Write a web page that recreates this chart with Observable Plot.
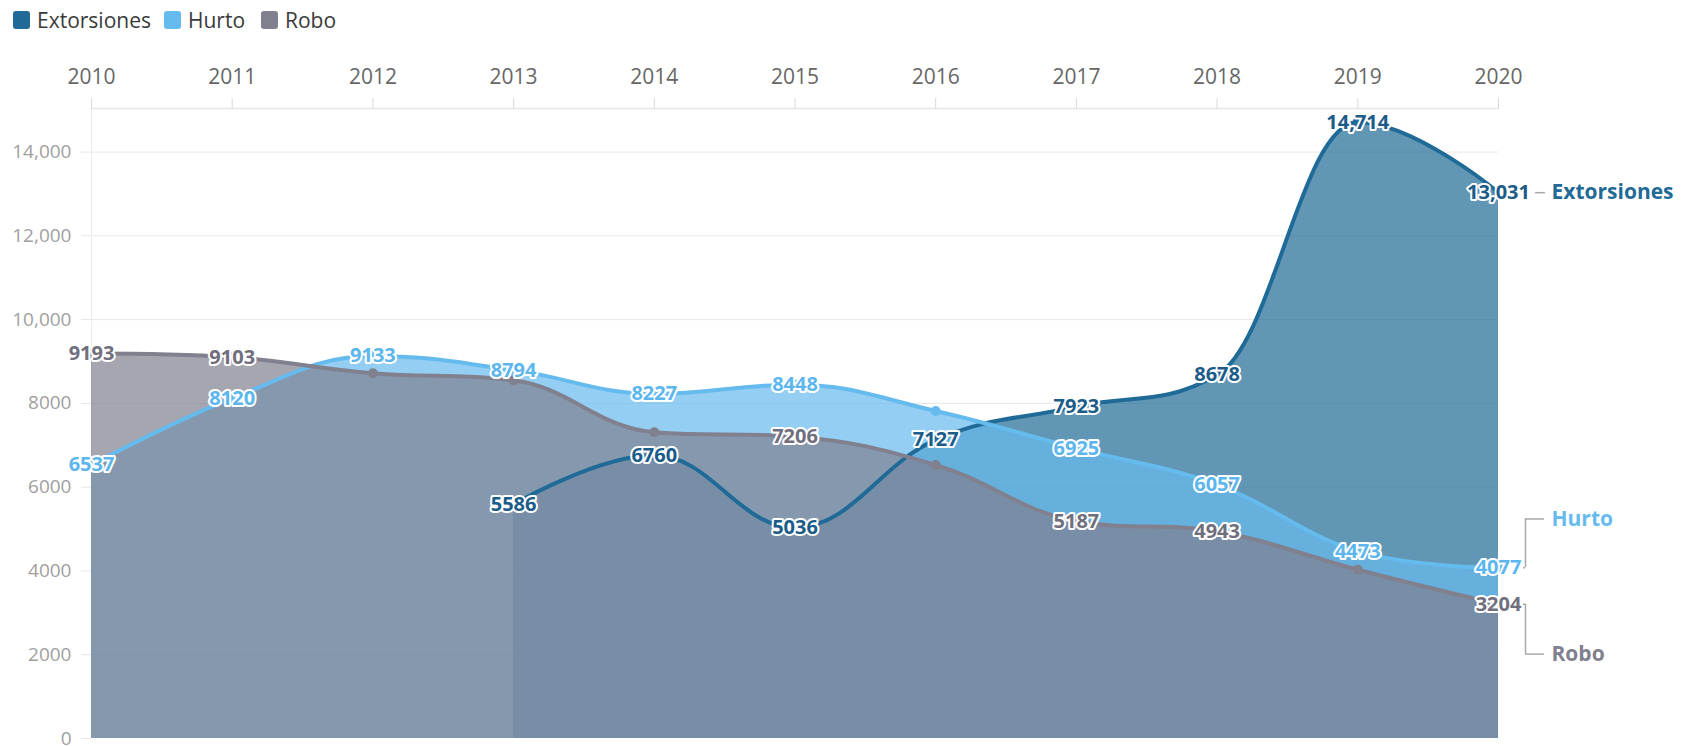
<!DOCTYPE html>
<html><head><meta charset="utf-8">
<script src="https://cdn.jsdelivr.net/npm/d3@7"></script>
<script src="https://cdn.jsdelivr.net/npm/@observablehq/plot@0.6"></script>
<style>
body{margin:0;background:#fff;font-family:"Open Sans",sans-serif;}
#legend{height:40px;position:relative;}
.item{position:absolute;top:9px;display:flex;align-items:center;font-size:21px;color:#3a3a3a;line-height:22px;}
.sw{width:17px;height:18px;border-radius:3px;margin-right:7px;}
</style></head><body>
<div id="legend"></div><div id="chart"></div>
<script>
// ---- data ----
const years = [2010, 2011, 2012, 2013, 2014, 2015, 2016, 2017, 2018, 2019, 2020];
const extYears = [2013, 2014, 2015, 2016, 2017, 2018, 2019, 2020];
const extorsiones = [5586, 6760, 5036, 7127, 7923, 8678, 14714, 13031];
const hurto = [6537, 8120, 9133, 8794, 8227, 8448, 7820, 6925, 6057, 4473, 4077];
const robo = [9193, 9103, 8720, 8550, 7310, 7206, 6530, 5187, 4943, 4030, 3204];
const seriesNames = ["Extorsiones", "Hurto", "Robo"];
const seriesColors = ["#1f6a96", "#66bbee", "#80808f"];
const labelColors = ["#1b5c88", "#5db6ee", "#6f6f7d"];
const hiddenLabels = {Extorsiones: [], Hurto: [2016], Robo: [2012, 2013, 2014, 2016, 2019]};
const yTicks = [0, 2000, 4000, 6000, 8000, 10000, 12000, 14000];

const rows = [
  ...extYears.map((year, i) => ({series: "Extorsiones", year, value: extorsiones[i]})),
  ...years.map((year, i) => ({series: "Hurto", year, value: hurto[i]})),
  ...years.map((year, i) => ({series: "Robo", year, value: robo[i]}))
];

// ---- Highcharts-like spline curve ----
function hcControls(p) {
  const n = p.length, L = new Array(n), R = new Array(n);
  const s = 1.5, den = 2.5;
  for (let i = 0; i < n; i++) {
    const x = p[i][0], y = p[i][1];
    L[i] = [x, y]; R[i] = [x, y];
    if (i > 0 && i < n - 1) {
      const lx = p[i-1][0], ly = p[i-1][1], nx = p[i+1][0], ny = p[i+1][1];
      let lcx = (s*x + lx)/den, lcy = (s*y + ly)/den, rcx = (s*x + nx)/den, rcy = (s*y + ny)/den;
      let corr = 0;
      if (rcx !== lcx) corr = ((rcy - lcy)*(rcx - x))/(rcx - lcx) + y - rcy;
      lcy += corr; rcy += corr;
      if (lcy > ly && lcy > y) { lcy = Math.max(ly, y); rcy = 2*y - lcy; }
      else if (lcy < ly && lcy < y) { lcy = Math.min(ly, y); rcy = 2*y - lcy; }
      if (rcy > ny && rcy > y) { rcy = Math.max(ny, y); lcy = 2*y - rcy; }
      else if (rcy < ny && rcy < y) { rcy = Math.min(ny, y); lcy = 2*y - rcy; }
      L[i] = [lcx, lcy]; R[i] = [rcx, rcy];
    }
  }
  return {L, R};
}
class HCSpline {
  constructor(ctx) { this._context = ctx; }
  areaStart() { this._line = 0; }
  areaEnd() { this._line = NaN; }
  lineStart() { this._pts = []; }
  point(x, y) { this._pts.push([+x, +y]); }
  lineEnd() {
    const p = this._pts, n = p.length, c = this._context;
    if (n) {
      if (this._line) c.lineTo(p[0][0], p[0][1]); else c.moveTo(p[0][0], p[0][1]);
      if (n > 1) {
        const {L, R} = hcControls(p);
        for (let i = 1; i < n; i++) c.bezierCurveTo(R[i-1][0], R[i-1][1], L[i][0], L[i][1], p[i][0], p[i][1]);
      }
    }
    if (this._line || (this._line !== 0 && n === 1)) c.closePath();
    this._line = 1 - this._line;
  }
}
const hcSpline = ctx => new HCSpline(ctx);

// ---- legend ----
const legendX = [13, 164, 261];
const legend = document.getElementById("legend");
seriesNames.forEach((name, i) => {
  const it = document.createElement("div");
  it.className = "item";
  it.style.left = legendX[i] + "px";
  it.innerHTML = `<div class="sw" style="background:${seriesColors[i]}"></div><span>${name}</span>`;
  legend.appendChild(it);
});

// ---- chart ----
const W = 1694, H = 706, mL = 91, mR = 196, mT = 68, mB = 8;
const yMax = 15040;
const pxYear = (W - mL - mR) / (years[years.length-1] - years[0]);
const xo = px => 2020 + px / pxYear;
const fmt = v => v >= 10000 ? d3.format(",")(v) : String(v);
const last = name => rows.filter(d => d.series === name).slice(-1)[0].value;

const marks = [
  Plot.ruleY(yTicks.slice(1), {stroke: "#e8e8e8", strokeWidth: 1}),
  Plot.ruleY([yMax], {stroke: "#e6e6e6", strokeWidth: 1.5}),
  Plot.ruleX([2010], {stroke: "#ececec"}),
  Plot.axisY(yTicks, {tickSize: 10, tickPadding: 10, stroke: "#e6e6e6", fill: "#a0a0a0", fontSize: 19, tickFormat: fmt, label: null}),
  Plot.axisX(years, {anchor: "top", tickSize: 11, tickPadding: 14, stroke: "#d9d9d9", fill: "#666", fontSize: 21, tickFormat: d => String(d), label: null})
];
seriesNames.forEach((name, i) => {
  marks.push(Plot.areaY(rows.filter(d => d.series === name), {x: "year", y1: 0, y2: "value", fill: seriesColors[i], fillOpacity: 0.7, curve: hcSpline}));
});
seriesNames.forEach((name, i) => {
  marks.push(Plot.line(rows.filter(d => d.series === name), {x: "year", y: "value", stroke: seriesColors[i], strokeWidth: 4, curve: hcSpline}));
});
seriesNames.forEach((name, i) => {
  marks.push(Plot.dot(rows.filter(d => d.series === name), {x: "year", y: "value", fill: seriesColors[i], r: 5}));
});
seriesNames.forEach((name, i) => {
  marks.push(Plot.text(rows.filter(d => d.series === name && !hiddenLabels[name].includes(d.year)), {
    x: "year", y: "value", text: d => fmt(d.value), fill: labelColors[i],
    stroke: "white", strokeWidth: 4, fontWeight: "bold", fontSize: 20
  }));
});
// end labels with connectors
const endY = {Extorsiones: last("Extorsiones"), Hurto: 5240, Robo: 2015};
const conn = {stroke: "#a8a8a8", strokeWidth: 1.5};
marks.push(
  Plot.ruleY([endY.Extorsiones], {x1: xo(37), x2: xo(47), ...conn}),
  Plot.ruleX([xo(27)], {y1: last("Hurto"), y2: endY.Hurto, ...conn}),
  Plot.ruleY([endY.Hurto], {x1: xo(27), x2: xo(46), ...conn}),
  Plot.ruleY([last("Hurto")], {x1: xo(25), x2: xo(27), ...conn}),
  Plot.ruleX([xo(27)], {y1: last("Robo"), y2: endY.Robo, ...conn}),
  Plot.ruleY([endY.Robo], {x1: xo(27), x2: xo(46), ...conn}),
  Plot.ruleY([last("Robo")], {x1: xo(25), x2: xo(27), ...conn})
);
seriesNames.forEach((name, i) => {
  marks.push(Plot.text([name], {x: () => 2020, y: () => endY[name], text: d => d, dx: 53, textAnchor: "start",
    fill: seriesColors[i], fontWeight: "bold", fontSize: 21}));
});

const chart = Plot.plot({
  width: W, height: H, marginLeft: mL, marginRight: mR, marginTop: mT, marginBottom: mB,
  x: {domain: [2010, 2020], label: null},
  y: {domain: [0, yMax], label: null},
  style: {fontFamily: "'Open Sans', sans-serif", background: "white", overflow: "visible"},
  marks
});
document.getElementById("chart").appendChild(chart);
</script>
</body></html>
